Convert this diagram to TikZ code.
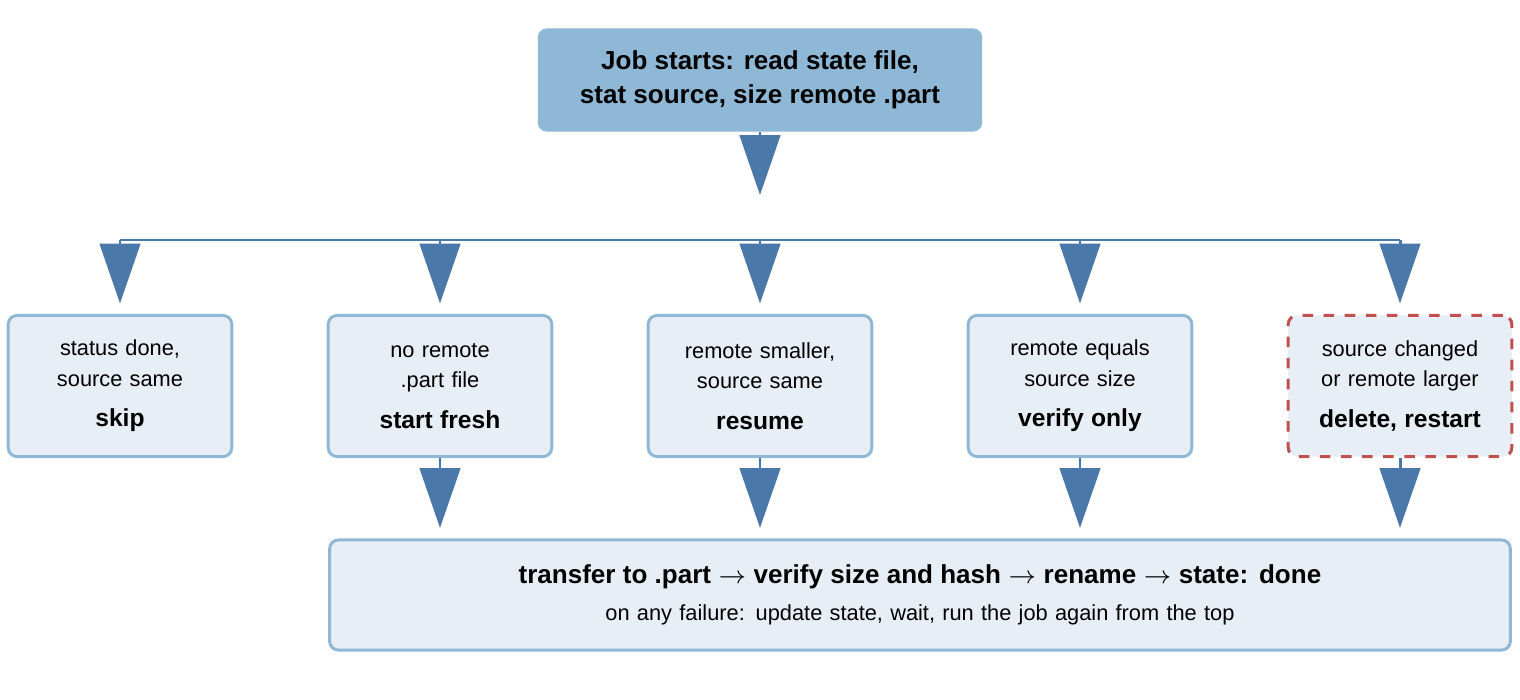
\documentclass[tikz,border=0pt]{standalone}
\usepackage{fontspec}
\setmainfont{Liberation Sans}
\usetikzlibrary{arrows.meta}
\definecolor{boxfill}{HTML}{E8EEF5}
\definecolor{boxline}{HTML}{8FB8D6}
\definecolor{arrowblue}{HTML}{4A78A8}
\definecolor{warnred}{HTML}{C0504D}
\begin{document}
\begin{tikzpicture}[
        x=0.01cm, y=-0.01cm,
        every node/.style={align=center, font=\fontsize{6.2pt}{8.6pt}\selectfont},
        choice/.style={rectangle, rounded corners=2.5pt, draw=boxline, fill=boxfill, line width=0.85pt, text width=2cm},
        flow/.style={draw=arrowblue, line width=0.85pt, -{Triangle[width=11.5pt,length=17pt]}}
    ]
        \useasboundingbox (0,0) rectangle (1520,700);
        % start
        \node [rectangle, rounded corners=2.5pt, fill=boxline, minimum width=4.44cm, minimum height=1.03cm,
               font=\fontsize{7.4pt}{9.6pt}\selectfont\bfseries] (start) at (760,80)
            {Job starts: read state file,\\stat source, size remote .part};
        \coordinate (split) at (760,195);
        \coordinate (left) at (120,240);
        \coordinate (right) at (1400,240);

        % cases
        \foreach \name/\x/\txt/\act in {
            skip/120/{status done,\\source same}/skip,
            fresh/440/{no remote\\.part file}/start fresh,
            resume/760/{remote smaller,\\source same}/resume,
            verify/1080/{remote equals\\source size}/verify only}
        {
            \node [choice, minimum width=2.22cm, minimum height=1.41cm] (\name) at (\x,386)
                {\txt\\[3pt]{\fontsize{7pt}{9pt}\selectfont\bfseries \act}};
            \coordinate (\name-top) at (\x,240);
        }
        \node [choice, draw=warnred, dashed, minimum width=2.22cm, minimum height=1.41cm] (restart) at (1400,386)
            {source changed\\or remote larger\\[3pt]{\fontsize{7pt}{9pt}\selectfont\bfseries delete, restart}};
        \coordinate (restart-top) at (1400,240);

        % transfer
        \node [choice, minimum width=11.8cm, minimum height=1.1cm, text width=11cm] (transfer) at (920,595)
            {{\fontsize{7.4pt}{9.6pt}\selectfont\bfseries transfer to .part $\rightarrow$ verify size and hash $\rightarrow$ rename $\rightarrow$ state: done}\\[2pt]
             on any failure: update state, wait, run the job again from the top};

        % connectors
        \draw[flow] (start) -- (split);
        \draw[draw=arrowblue, line width=0.85pt] (left) -- (right);
        \foreach \name in {skip, fresh, resume, verify, restart}
            \draw[flow] (\name-top) -- ([yshift=3pt]\name.north);
        \foreach \name in {fresh, resume, verify, restart}
            \draw[flow] (\name.south) -- ([yshift=3pt]\name.south |- transfer.north);
    \end{tikzpicture}
\end{document}
